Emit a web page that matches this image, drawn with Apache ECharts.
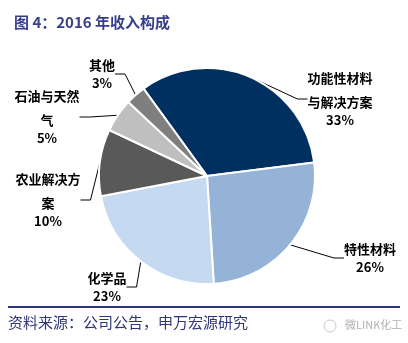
<!DOCTYPE html>
<html><head><meta charset="utf-8">
<script src="https://cdn.jsdelivr.net/npm/echarts@6/dist/echarts.min.js"></script>
<style>html,body{margin:0;padding:0;background:#fff}#c{width:408px;height:343px}</style>
</head><body><div id="c"></div>
<script>
const categories = ['功能性材料与解决方案', '特性材料', '化学品', '农业解决方案', '石油与天然气', '其他'];
const nameLines = [['功能性材料', '与解决方案'], ['特性材料'], ['化学品'], ['农业解决方', '案'], ['石油与天然', '气'], ['其他']];
const values = [33, 26, 23, 10, 5, 3];
const colors = ['#00305F', '#95B3D7', '#C5D9F1', '#595959', '#BFBFBF', '#7F7F7F'];
const labelPos = [[340, 96], [370, 255], [107, 284], [48, 197], [47, 114], [102, 71]];

const chart = echarts.init(document.getElementById('c'));
const font = '"Noto Sans CJK SC", "Microsoft YaHei", sans-serif';
chart.setOption({
  animation: false,
  backgroundColor: '#fff',
  title: {
    text: '图 4：2016 年收入构成', left: 9, top: 10,
    textStyle: { color: '#373E8E', fontSize: 15, fontWeight: 'bold', fontFamily: font }
  },
  graphic: [
    { type: 'line', shape: { x1: 8, y1: 307, x2: 400, y2: 307 }, style: { stroke: '#2F3579', lineWidth: 2 } },
    { type: 'text', left: 8, top: 315, style: { text: '资料来源：公司公告，申万宏源研究', fill: '#2F3579', font: '15px ' + font } },
    { type: 'text', left: 345, top: 319, style: { text: '微LINK化工', fill: '#B0B0B0', font: '11px ' + font } },
    { type: 'circle', shape: { cx: 330, cy: 326, r: 6 }, style: { fill: 'none', stroke: '#C8C8C8', lineWidth: 1 } }
  ],
  series: [{
    type: 'pie',
    center: [207, 176],
    radius: 108,
    startAngle: 126,
    clockwise: true,
    data: categories.map((c, i) => ({ name: c, value: values[i], itemStyle: { color: colors[i] } })),
    itemStyle: { borderColor: '#fff', borderWidth: 2 },
    label: {
      show: true,
      position: 'outside',
      color: '#000',
      fontFamily: font,
      formatter: p => nameLines[p.dataIndex].map(s => '{n|' + s + '}').join('\n') + '\n{p|' + p.value + '%}',
      rich: {
        n: { fontSize: 13, fontWeight: 'bold', lineHeight: 24, color: '#000', fontFamily: font, align: 'center' },
        p: { fontSize: 13, fontWeight: 'bold', lineHeight: 12, color: '#000', fontFamily: font, align: 'center' }
      }
    },
    labelLine: { show: true, length: 8, length2: 10, lineStyle: { color: '#000', width: 1 } },
    labelLayout: p => ({ x: labelPos[p.dataIndex][0], y: labelPos[p.dataIndex][1], align: 'center', verticalAlign: 'middle' })
  }]
});
</script></body></html>
